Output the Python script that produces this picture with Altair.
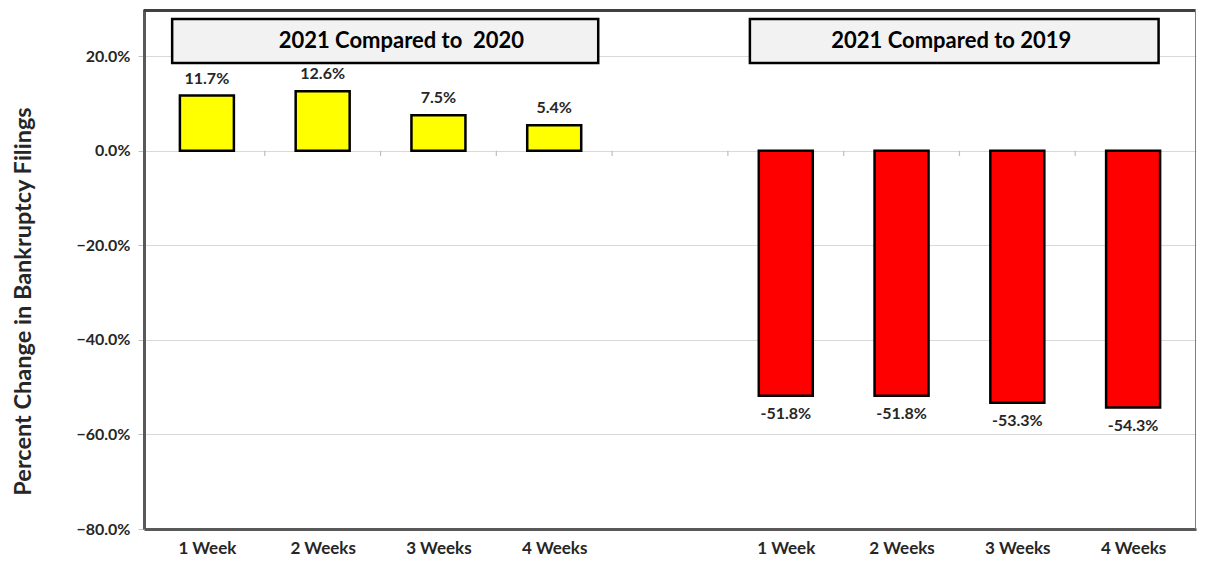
import altair as alt
import pandas as pd

# ---------------- data ----------------
periods = ["1 Week", "2 Weeks", "3 Weeks", "4 Weeks"]
change_vs_2020 = [11.7, 12.6, 7.5, 5.4]
change_vs_2019 = [-51.8, -51.8, -53.3, -54.3]
panel_titles = ["2021 Compared to\u00a0\u00a02020", "2021 Compared to 2019"]
y_ticks = [-80, -60, -40, -20, 0, 20]
y_title = "Percent Change in Bankruptcy Filings"

# ---------------- layout helpers ----------------
n = len(periods)
slots_2020 = list(range(n))
slots_2019 = [n + 1 + i for i in range(n)]
n_slots = 2 * n + 1
slot_labels = periods + [""] + periods

W, H = 1052, 520
FONT = "Lato"
DARK = "#262626"

bars = pd.DataFrame({
    "slot": slots_2020 + slots_2019,
    "value": change_vs_2020 + change_vs_2019,
    "group": ["vs2020"] * n + ["vs2019"] * n,
})
bars["label"] = bars["value"].map(lambda v: f"{v:.1f}%")

boundaries = pd.DataFrame({"b": [i + 0.5 for i in range(n_slots - 1)], "y0": 0.0, "y1": -1.1})

boxes = pd.DataFrame({
    "x0": [-0.30, 4.69], "x1": [3.38, 8.22],
    "y0": [18.6, 18.6], "y1": [27.9, 27.9],
    "tx": [1.68, 6.43], "ty": [23.2, 23.2],
    "text": panel_titles,
})

xs = alt.Scale(domain=[-0.5, n_slots - 0.5], nice=False, zero=False)
ys = alt.Scale(domain=[-80, 30], nice=False, zero=False)

label_arr = "[" + ",".join("'" + s + "'" for s in slot_labels) + "]"
xaxis = alt.Axis(
    values=slots_2020 + slots_2019,
    labelExpr=label_arr + "[datum.value]",
    grid=False, ticks=False, domain=True, domainColor="#595959", domainWidth=3,
    labelFont=FONT, labelFontSize=17, labelFontWeight="bold", labelColor=DARK,
    labelPadding=11, title=None, labelFlush=False,
)
yaxis = alt.Axis(
    values=y_ticks,
    labelExpr="format(datum.value, '.1f') + '%'",
    grid=True, gridColor="#d9d9d9", gridWidth=1,
    ticks=True, tickSize=6, tickColor="#bfbfbf",
    domain=True, domainColor="#595959", domainWidth=3,
    labelFont=FONT, labelFontSize=16, labelFontWeight="bold", labelColor=DARK,
    labelPadding=8,
    title=y_title, titleFont=FONT, titleFontSize=23.5, titleFontWeight="bold",
    titleColor=DARK, titleX=-121, titleY=292, titleAngle=270,
    titleBaseline="middle", titleAlign="center",
)


def X(f):
    return alt.X(f, type="quantitative", scale=xs, axis=xaxis)


def Y(f):
    return alt.Y(f, type="quantitative", scale=ys, axis=yaxis)


base_bars = alt.Chart(bars)

bar_layer = base_bars.mark_bar(size=54, stroke="black", strokeWidth=2.5).encode(
    x=X("slot"), y=Y("value"), y2=alt.datum(0),
    color=alt.Color("group:N", scale=alt.Scale(domain=["vs2020", "vs2019"],
                                               range=["#ffff00", "#ff0000"]), legend=None),
)

pos_labels = base_bars.transform_filter("datum.value >= 0").mark_text(
    baseline="bottom", dy=-9, font=FONT, fontSize=16, fontWeight="bold", color=DARK
).encode(x=X("slot"), y=Y("value"), text="label:N")

neg_labels = base_bars.transform_filter("datum.value < 0").mark_text(
    baseline="top", dy=10, font=FONT, fontSize=16, fontWeight="bold", color=DARK
).encode(x=X("slot"), y=Y("value"), text="label:N")

ticks0 = alt.Chart(boundaries).mark_rule(color="#bfbfbf", strokeWidth=1.2).encode(
    x=X("b"), y=Y("y0"), y2="y1"
)

box_rect = alt.Chart(boxes).mark_rect(fill="#f2f2f2", stroke="black", strokeWidth=2.5).encode(
    x=X("x0"), x2="x1", y=Y("y0"), y2="y1"
)
box_text = alt.Chart(boxes).mark_text(
    font=FONT, fontSize=22, fontWeight="bold", color="black", baseline="middle", align="center"
).encode(x=X("tx"), y=Y("ty"), text="text:N")

frame_top = alt.Chart(boxes).mark_rule(color="#404040", strokeWidth=3).encode(
    x=alt.value(0), x2=alt.value(W), y=alt.value(1.5)
)
frame_right = alt.Chart(boxes).mark_rule(color="#808080", strokeWidth=1).encode(
    x=alt.value(W - 0.5), y=alt.value(0), y2=alt.value(H)
)

chart = alt.layer(
    ticks0, bar_layer, pos_labels, neg_labels, box_rect, box_text, frame_top, frame_right
).properties(
    width=W, height=H,
    padding={"left": 3, "top": 0, "right": 0, "bottom": 0},
    background="white",
).configure_view(stroke=None)

chart.save("out.html", embed_options={"renderer": "svg", "actions": False})
